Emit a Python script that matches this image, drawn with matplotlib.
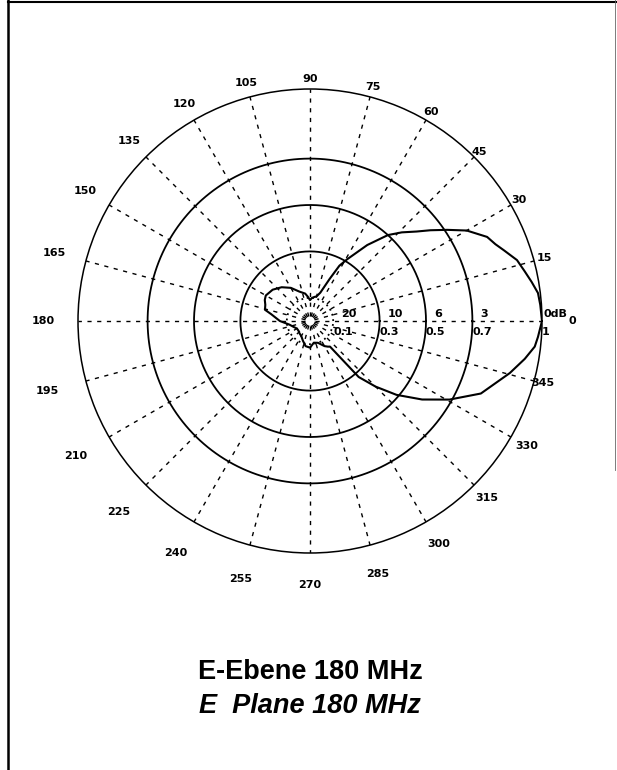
import numpy as np
import matplotlib.pyplot as plt
from matplotlib.lines import Line2D

# Richtdiagramm E-Ebene, 180 MHz (relative Feldstaerke, linear)
angles_deg = [0, 4, 7, 10, 13, 16.4, 20, 22.5, 25.4, 30, 33.6, 37, 40, 44, 47.8, 53, 59, 62,
              65, 70, 75, 80, 85, 90, 95, 100, 110, 120, 130, 140, 150, 155, 160, 166, 170,
              180, 190, 200, 210, 220, 230, 240, 250, 260, 270, 280, 290, 300, 305, 308,
              311, 315, 319.5, 325, 330.6, 337, 345.4, 350, 353.5, 356]
field_rel = [1.0, 0.995, 0.99, 0.97, 0.95, 0.93, 0.89, 0.865, 0.845, 0.78, 0.71, 0.65, 0.60,
             0.55, 0.50, 0.41, 0.31, 0.27, 0.20, 0.13, 0.11, 0.105, 0.10, 0.09, 0.105, 0.12,
             0.135, 0.165, 0.19, 0.21, 0.22, 0.215, 0.205, 0.20, 0.17, 0.13, 0.09, 0.075,
             0.065, 0.065, 0.07, 0.075, 0.09, 0.11, 0.115, 0.095, 0.10, 0.125, 0.135, 0.14,
             0.32, 0.40, 0.49, 0.59, 0.69, 0.80, 0.89, 0.94, 0.975, 0.985]

ring_values = [0.1, 0.3, 0.5, 0.7, 1.0]
ring_db = ["20", "10", "6", "3", "0dB"]
ring_lin = ["0.1", "0.3", "0.5", "0.7", "1"]
spoke_angles = list(range(0, 360, 15))
# Abstand der Winkelbeschriftung (relativ zum Aussenkreis)
label_r = [1.13, 1.045, 1.04, 1.03, 1.04, 1.045, 1.045, 1.06, 1.08, 1.10, 1.12, 1.14,
           1.15, 1.17, 1.165, 1.165, 1.155, 1.15, 1.14, 1.13, 1.11, 1.08, 1.08, 1.04]

W, H = 617, 770
cx, cy, rad = 310, 321, 232

fig = plt.figure(figsize=(W / 100, H / 100), dpi=100)
ax = fig.add_axes([(cx - rad) / W, 1 - (cy + rad) / H, 2 * rad / W, 2 * rad / H],
                  projection="polar")
ax.set_theta_zero_location("E")
ax.set_ylim(0, 1)
ax.set_xticks([])
ax.set_yticks([])
ax.grid(False)
ax.spines["polar"].set_linewidth(1.1)

# Kreise
t = np.linspace(0, 2 * np.pi, 400)
for r in ring_values[:-1]:
    ls = (0, (1, 2)) if r == 0.1 else "-"
    ax.plot(t, np.full_like(t, r), color="black", lw=1.3, ls=ls)

# Speichen
for a in spoke_angles:
    ax.plot([np.deg2rad(a)] * 2, [0.02, 1], color="black", lw=1.0, ls=(0, (3, 4)))

# Diagramm
th = np.deg2rad(angles_deg + [angles_deg[0]])
rr = field_rel + [field_rel[0]]
ax.plot(th, rr, color="black", lw=1.5)

lab_font = dict(family="DejaVu Sans", weight="bold", fontsize=8, color="black")

# Winkelbeschriftung
for a, rl in zip(spoke_angles, label_r):
    ax.text(np.deg2rad(a), rl, str(a), ha="center", va="center", **lab_font)

# Ringbeschriftung
for r, db, lin in zip(ring_values, ring_db, ring_lin):
    dx = 1 if r == 1.0 else 6
    ax.annotate(db, xy=(0, r), xytext=(dx, 5), textcoords="offset points",
                ha="left", va="center", **lab_font)
    ax.annotate(lin, xy=(0, r), xytext=(0, -8), textcoords="offset points",
                ha="left", va="center", **lab_font)

# Bildunterschrift
fig.text(0.503, 1 - 672 / H, "E-Ebene 180 MHz", ha="center", va="center",
         fontsize=19.5, weight="bold", family="Liberation Sans")
fig.text(0.503, 1 - 706 / H, "E  Plane 180 MHz", ha="center", va="center",
         fontsize=19.5, weight="bold", style="italic", family="Liberation Sans")

# Rahmen
fig.add_artist(Line2D([8 / W, 8 / W], [0, 1], color="black", lw=1.8))
fig.add_artist(Line2D([8 / W, 1], [1 - 2 / H, 1 - 2 / H], color="black", lw=1.5))
fig.add_artist(Line2D([615 / W, 615 / W], [1, 1 - 470 / H], color="0.4", lw=0.6))

fig.savefig("out.png", dpi=100)
